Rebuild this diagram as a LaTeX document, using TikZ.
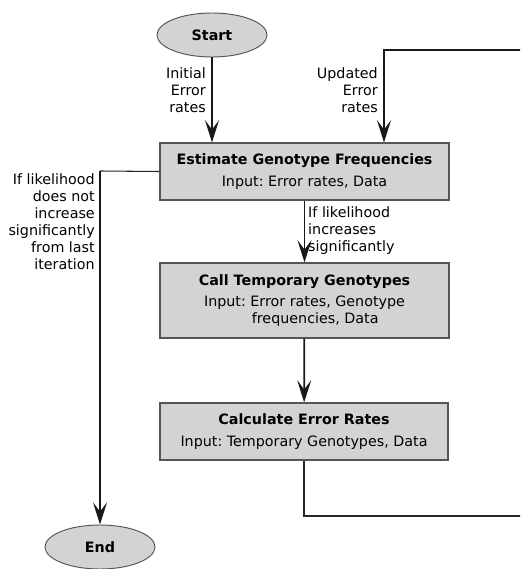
\documentclass[tikz,border=0pt]{standalone}
\usepackage{fontspec}
\setmainfont{DejaVu Sans}
\frenchspacing
\usetikzlibrary{arrows.meta, shapes, positioning}
\definecolor{box_grey}{RGB}{211,211,213}
\definecolor{edge_grey}{RGB}{85,85,85}

\begin{document}
\begin{tikzpicture}[x=0.03cm, y=-0.03cm, >={Stealth[length=19pt, width=12pt, inset=8pt]},
    every node/.style={font=\fontsize{12.2}{14.5}\selectfont},
    stepbox/.style={rectangle, draw=edge_grey, line width=1pt, fill=box_grey, align=center, inner sep=0pt},
    terminal/.style={ellipse, draw=edge_grey, line width=0.8pt, fill=box_grey, minimum width=3.3cm, minimum height=1.32cm, font=\fontsize{12.2}{14.5}\selectfont\bfseries},
    note/.style={align=right, anchor=east, inner sep=0pt},
    flow/.style={->, line width=1.5pt, black!90},
    back/.style={line width=0.9pt, black!85}]
      \useasboundingbox (0,0) rectangle (520,569);
      \clip (0,0) rectangle (520,569);
      \node[terminal] (start) at (212,35) {Start};
      \node[terminal] (end) at (100,547) {End};
      \node[stepbox, minimum width=8.67cm, minimum height=1.71cm] (est) at (304.5,171.5) {\textbf{Estimate Genotype Frequencies}\\[4pt] Input: Error rates, Data};
      \node[stepbox, minimum width=8.67cm, minimum height=2.25cm] (call) at (304.5,300.5) {\textbf{Call Temporary Genotypes}\\[4pt] Input: Error rates, Genotype\\ \hspace{1.5em}frequencies, Data};
      \node[stepbox, minimum width=8.64cm, minimum height=1.71cm] (calc) at (304,431.5) {\textbf{Calculate Error Rates}\\[4pt] Input: Temporary Genotypes, Data};
      \coordinate (topright) at (524,50);
      \coordinate (botright) at (524,516);
      \coordinate (leftturn) at (100,171);
      \draw[flow] (start) -- (start |- est.north);
      \node[note] (initial) at (206,90) {Initial\\Error\\rates};
      \draw[flow] (topright) -| ([xshift=79.5*0.03cm]est.north);
      \node[note] (updated) at (378,90) {Updated\\Error\\rates};
      \draw[flow] (est.south -| call.north) -- (call.north);
      \node[align=left, anchor=west, inner sep=0pt] (increase) at (308,231) {If likelihood\\increases\\significantly};
      \draw[flow] (call) -- (calc);
      \draw[back] (calc.south) |- (botright) -- (topright);
      \draw[back] (est.west) -- (leftturn);
      \draw[flow] (leftturn) -- (end);
      \node[note] (stop) at (95,222) {If likelihood\\does not\\increase\\significantly\\from last\\iteration};
    \end{tikzpicture}
\end{document}
